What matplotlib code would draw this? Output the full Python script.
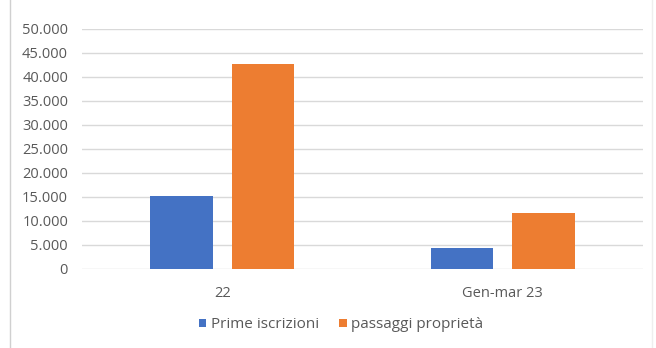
import numpy as np
import matplotlib.pyplot as plt
from matplotlib.ticker import FuncFormatter
from matplotlib.lines import Line2D

categories = ['22', 'Gen-mar 23']
prime_iscrizioni = [15200, 4300]
passaggi_proprieta = [42800, 11700]
series_names = ['Prime iscrizioni', 'passaggi proprietà']
colors = ['#4472C4', '#ED7D31']

plt.rcParams['font.family'] = ['Open Sans', 'DejaVu Sans']

fig = plt.figure(figsize=(6.56, 3.48), dpi=100)
ax = fig.add_axes([82 / 656, (348 - 269) / 348, (643 - 82) / 656, 240 / 348])

x = np.arange(len(categories))
w = 0.222
gap = 0.068
ax.bar(x - (w + gap) / 2, prime_iscrizioni, w, color=colors[0], label=series_names[0], zorder=3)
ax.bar(x + (w + gap) / 2, passaggi_proprieta, w, color=colors[1], label=series_names[1], zorder=3)

ax.set_xlim(-0.5, len(categories) - 0.5)
ax.set_ylim(0, 50000)
ax.set_yticks(np.arange(0, 50001, 5000))
ax.yaxis.set_major_formatter(FuncFormatter(lambda v, p: f'{int(v):,}'.replace(',', '.')))
ax.set_xticks(x)
ax.set_xticklabels(categories)
ax.grid(axis='y', color='#d9d9d9', linewidth=1, zorder=0)
for s in ax.spines.values():
    s.set_visible(False)
ax.tick_params(axis='both', length=0, labelsize=10.5, colors='#595959', pad=10)
ax.tick_params(axis='x', pad=12)

# outer chart border
fig.add_artist(Line2D([10 / 656, 10 / 656], [0, 1], color='#d0d0d0', lw=1))
fig.add_artist(Line2D([652 / 656, 652 / 656], [0, 1], color='#eeeeee', lw=1))

leg = fig.legend(loc='center', bbox_to_anchor=(341 / 656, 1 - 325 / 348), ncol=2,
                 frameon=False, fontsize=11, handlelength=0.5, handleheight=0.5,
                 handletextpad=0.3, columnspacing=1.3)
for t in leg.get_texts():
    t.set_color('#595959')

fig.savefig('out.png', dpi=100, facecolor='white')
